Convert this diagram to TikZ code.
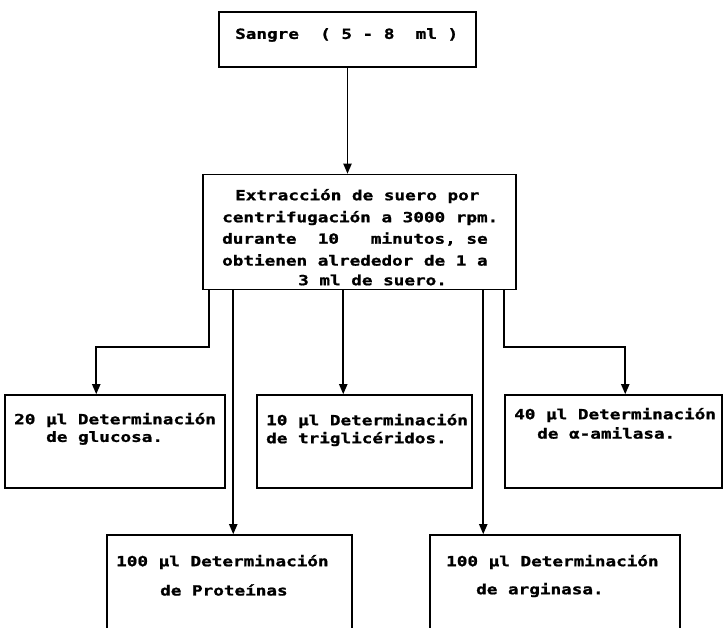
\documentclass[tikz,border=0pt]{standalone}
\usepackage{fontspec}
\newfontfamily\dotfont{DejaVu Sans Mono}[FakeStretch=1.26,FakeBold=1.2]
\usetikzlibrary{arrows.meta,calc}
\begin{document}
\begin{tikzpicture}[x=1pt,y=-1pt,
  box/.style={draw, line width=1.5pt, rectangle, inner sep=0pt},
  txt/.style={anchor=west, inner sep=0pt, font=\dotfont\bfseries\fontsize{14}{14}\selectfont},
  link/.style={line width=1.8pt},
  flow/.style={link, -{Triangle[length=10pt,width=8pt]}}]
\useasboundingbox (0,0) rectangle (724,628);
\clip (0,0) rectangle (724,628);

% boxes
\node[box, minimum width=257pt, minimum height=55pt] (sangre) at (347.5,39.5) {};
\node[box, minimum width=313pt, minimum height=115pt] (suero) at (359.5,232) {};
\node[box, minimum width=220pt, minimum height=93pt] (glucosa) at (115,441.5) {};
\node[box, minimum width=215pt, minimum height=93pt] (trig) at (364.5,441.5) {};
\node[box, minimum width=217pt, minimum height=93pt] (amil) at (613.5,441.5) {};
\node[box, minimum width=245pt, minimum height=115pt] (prot) at (229.5,592.5) {};
\node[box, minimum width=250pt, minimum height=115pt] (argi) at (555,592.5) {};

% texts
\node[txt] (t0) at (235,35) {Sangre~~(~5~-~8~~ml~)};
\node[txt] (t1) at (235,196) {Extracción de suero por};
\node[txt] (t2) at (222,218) {centrifugación a 3000 rpm.};
\node[txt] (t3) at (222,239) {durante~~10~~~minutos, se};
\node[txt] (t4) at (222,260) {obtienen alrededor de 1 a};
\node[txt] (t5) at (298,280) {3 ml de suero.};
\node[txt] (g1) at (14,420) {20 µl Determinación};
\node[txt] (g2) at (46,438) {de glucosa.};
\node[txt] (r1) at (266,421) {10 µl Determinación};
\node[txt] (r2) at (266,439) {de triglicéridos.};
\node[txt] (a1) at (514,415) {40 µl Determinación};
\node[txt] (a2) at (537,433) {de α-amilasa.};
\node[txt] (p1) at (116,562) {100 µl Determinación};
\node[txt] (p2) at (160,590) {de Proteínas};
\node[txt] (n1) at (446,562) {100 µl Determinación};
\node[txt] (n2) at (476,590) {de arginasa.};

% branch points on the serum box
\coordinate (s1) at ($(suero.south west)+(7,0)$);
\coordinate (s2) at ($(suero.south west)+(31,0)$);
\coordinate (s3) at ($(suero.south west)+(141,0)$);
\coordinate (s4) at ($(suero.south west)+(281,0)$);
\coordinate (s5) at ($(suero.south west)+(302,0)$);
\coordinate (gin) at ($(glucosa.north west)+(92,0)$);
\coordinate (ain) at ($(amil.north west)+(121,0)$);

% connectors
\draw[flow] (sangre.south) -- (sangre.south |- suero.north);
\draw[flow] (s1) -- ++(0,56.5) -| (gin);
\draw[flow] (s2) -- (s2 |- prot.north);
\draw[flow] (s3) -- (s3 |- trig.north);
\draw[flow] (s4) -- (s4 |- argi.north);
\draw[flow] (s5) -- ++(0,56.5) -| (ain);
\end{tikzpicture}
\end{document}
